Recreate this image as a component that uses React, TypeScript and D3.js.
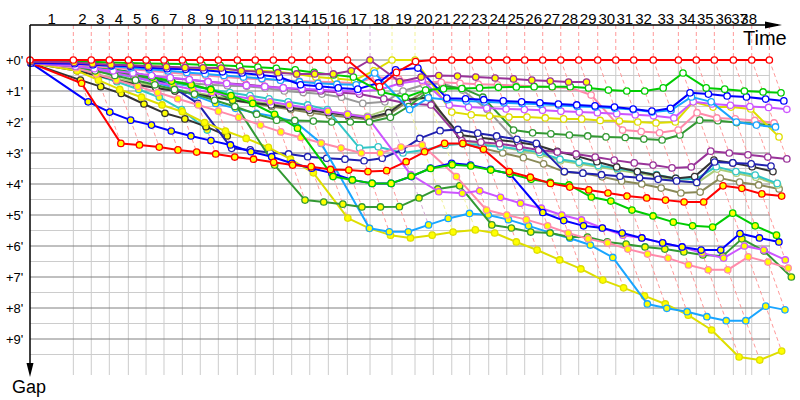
import * as d3 from "d3";

// leader lap-completion times (minutes), index 0 = start
const lapTimes = [0, 3.94, 5.57, 7.21, 8.94, 10.55, 12.18, 13.85, 15.48, 17.12, 18.85, 20.48, 22.12, 23.79, 25.43, 27.12, 28.85, 30.91, 32.91, 35.0, 36.66, 38.34, 39.97, 41.7, 43.34, 44.97, 46.61, 48.25, 49.88, 51.61, 53.25, 54.88, 56.66, 58.94, 60.57, 62.21, 63.94, 65.61, 67.21];
const extraGridTimes = [65.06];
const lapLabels = ["1", "2", "3", "4", "5", "6", "7", "8", "9", "10", "11", "12", "13", "14", "15", "16", "17", "18", "19", "20", "21", "22", "23", "24", "25", "26", "27", "28", "29", "30", "31", "32", "33", "34", "35", "36", "37", "38"];
const gapTicks = [0, 1, 2, 3, 4, 5, 6, 7, 8, 9];
const gapLabels = ["+0'", "+1'", "+2'", "+3'", "+4'", "+5'", "+6'", "+7'", "+8'", "+9'"];

// gap to the leader (minutes) at the end of each lap, index 0 = start
const redW = [0, 0, 0, 0, 0, 0, 0, 0, 0, 0, 0, 0, 0, 0, 0, 0, 0, 0.86, 0.4, 0.05, 0, 0, 0, 0, 0, 0, 0, 0, 0, 0, 0, 0, 0, 0, 0, 0, 0, 0, 0];
const redY = [0.1, 0.75, 2.69, 2.74, 2.81, 2.9, 2.97, 3.03, 3.13, 3.2, 3.3, 3.39, 3.44, 3.53, 3.55, 3.6, 3.57, 3.28, 2.96, 2.69, 2.69, 2.88, 3.6, 3.78, 3.98, 4.1, 4.19, 4.29, 4.39, 4.45, 4.52, 4.58, 4.58, 4.06, 4.14, 4.32, 4.39];
const greenW = [0.05, 0.05, 0.06, 0.08, 0.1, 0.11, 0.12, 0.13, 0.15, 0.17, 0.2, 0.23, 0.27, 0.32, 0.4, 0.48, 0.55, 1.03, 1.2, 0.97, 0.93, 0.92, 0.9, 0.88, 0.87, 0.86, 0.86, 0.86, 0.9, 0.97, 1.0, 1.0, 0.9, 0.42, 0.9, 0.94, 1.0, 1.03, 1.06];
const greenY = [0.1, 0.12, 0.2, 0.3, 0.42, 0.55, 0.68, 0.8, 0.95, 1.15, 1.4, 1.75, 2.2, 3.76, 3.87, 3.98, 3.98, 3.75, 3.5, 3.38, 3.42, 3.55, 3.66, 3.85, 3.95, 4.03, 4.42, 4.55, 4.84, 5.03, 5.23, 5.35, 5.39, 4.94, 5.35, 5.65];
const blueW = [0.1, 0.12, 0.15, 0.18, 0.2, 0.25, 0.28, 0.3, 0.33, 0.38, 0.42, 0.48, 0.55, 0.8, 0.85, 0.9, 0.94, 0.74, 0.32, 0.26, 1.23, 1.25, 1.28, 1.32, 1.35, 1.38, 1.42, 1.45, 1.48, 1.52, 1.58, 1.65, 1.56, 1.06, 1.1, 1.16, 1.19, 1.26, 1.32];
const blueY = [0.1, 1.35, 1.68, 1.94, 2.1, 2.29, 2.45, 2.6, 2.74, 2.96, 3.12, 3.33, 3.49, 3.65, 3.87, 3.98, 3.98, 3.76, 3.49, 3.33, 3.39, 3.53, 3.68, 4.92, 5.18, 5.35, 5.42, 5.58, 5.74, 5.9, 6.03, 6.13, 6.13, 5.6, 5.74, 5.87];
const navyW = [0.1, 0.15, 0.2, 0.3, 0.4, 0.55, 0.9, 1.4, 2.85, 2.9, 2.99, 3.03, 3.12, 3.17, 3.2, 3.25, 3.17, 2.9, 2.53, 2.28, 2.24, 2.36, 2.45, 2.56, 2.69, 3.6, 3.65, 3.7, 3.75, 3.8, 3.85, 3.9, 3.95, 3.29, 3.32, 3.35, 3.42];
const dblueW = [0.1, 0.1, 0.15, 0.2, 0.25, 0.3, 0.35, 0.4, 0.45, 0.5, 0.55, 0.6, 0.65, 0.7, 0.75, 0.78, 0.8, 0.42, 1.6, 1.22, 1.28, 1.32, 1.35, 1.38, 1.4, 1.43, 1.46, 1.5, 1.52, 1.56, 1.6, 1.68, 1.62, 1.19, 1.35, 2.0, 2.1, 2.16];
const dblueY = [0.1, 0.15, 0.25, 0.4, 0.55, 0.7, 0.9, 1.15, 1.4, 1.56, 1.72, 1.83, 1.99, 2.69, 5.43, 5.54, 5.54, 5.32, 5.11, 4.95, 5.0, 5.15, 5.35, 5.57, 5.75, 5.97, 6.37, 7.87, 8.01, 8.12, 8.28, 8.41, 8.41, 7.94, 8.06];
const violetW = [0.1, 0.2, 0.28, 0.35, 0.42, 0.5, 0.57, 0.63, 0.7, 0.76, 0.82, 0.86, 0.9, 0.93, 0.96, 1.0, 1.02, 0.95, 0.75, 0.65, 1.45, 1.52, 1.55, 1.58, 1.6, 1.62, 1.65, 1.68, 1.7, 1.73, 1.77, 1.8, 1.87, 1.35, 1.42, 1.46, 1.5, 1.53, 1.59];
const violetY = [0.1, 0.2, 0.3, 0.42, 0.55, 0.7, 0.82, 0.95, 1.05, 1.15, 1.25, 1.35, 1.45, 1.55, 1.65, 1.75, 1.85, 3.7, 4.25, 4.3, 4.22, 4.43, 4.62, 4.78, 5.0, 5.16, 5.42, 5.65, 5.74, 5.9, 6.03, 6.23, 6.39, 6.0, 6.13, 6.45];
const yellowW = [0.08, 0.1, 0.12, 0.15, 0.18, 0.2, 0.22, 0.25, 0.28, 0.3, 0.33, 0.35, 0.38, 0.45, 0.55, 0.6, 0.65, 0.35, 0, 0, 1.68, 1.77, 1.81, 1.84, 1.84, 1.87, 1.9, 1.9, 1.95, 1.97, 2.0, 2.03, 2.0, 1.35, 1.52, 1.52, 1.58, 2.48];
const yellowY = [0.1, 0.35, 0.65, 0.95, 1.2, 1.45, 1.67, 2.02, 2.29, 2.53, 2.82, 3.2, 3.64, 5.1, 5.43, 5.65, 5.74, 5.65, 5.55, 5.48, 5.58, 5.87, 6.13, 6.45, 6.74, 7.1, 7.35, 7.61, 7.87, 8.23, 8.71, 9.58, 9.68, 9.39];
const pinkW = [0.1, 0.15, 0.2, 0.25, 0.3, 0.35, 0.4, 0.45, 0.5, 0.55, 0.6, 0.62, 0.65, 0.68, 0.7, 0.72, 0.75, 0.55, 0.62, 0.7, 0.72, 0.75, 0.78, 0.8, 0.82, 0.85, 0.88, 0.9, 1.13, 2.26, 2.31, 2.35, 2.26, 1.7, 1.87, 1.9, 1.95, 2.03];
const pinkY = [0.1, 0.25, 0.45, 0.65, 0.85, 1.05, 1.25, 1.45, 1.65, 1.85, 2.1, 2.32, 2.5, 2.68, 2.84, 3.0, 3.0, 2.81, 2.74, 3.76, 4.84, 5.0, 5.15, 5.35, 5.58, 5.77, 5.9, 6.1, 6.26, 6.39, 6.61, 6.77, 6.77, 6.35, 6.52, 6.71];
const dgreenW = [0.1, 0.2, 0.35, 0.5, 0.65, 0.8, 0.95, 1.1, 1.3, 1.5, 1.75, 1.94, 1.95, 1.97, 2.0, 2.0, 2.0, 1.85, 1.5, 1.05, 0.85, 0.9, 1.2, 2.26, 2.35, 2.38, 2.42, 2.45, 2.48, 2.5, 2.55, 2.58, 2.42, 1.94, 1.96, 2.02, 2.06, 2.1];
const dgreenY = [0.1, 0.2, 0.3, 0.4, 0.5, 0.6, 0.7, 0.8, 0.95, 1.3, 3.39, 4.52, 4.58, 4.65, 4.74, 4.74, 4.73, 4.45, 4.16, 4.06, 5.32, 5.42, 5.55, 5.58, 5.71, 5.71, 5.87, 5.94, 6.03, 6.1, 6.19, 6.29, 6.32, 5.77, 6.16, 7.0];
const dpurpleW = [0.1, 0.2, 0.3, 0.38, 0.45, 0.52, 0.58, 0.64, 0.7, 0.75, 0.8, 0.85, 0.9, 0.95, 1.0, 1.05, 1.1, 1.25, 1.4, 1.45, 2.6, 2.65, 2.7, 2.8, 2.9, 2.97, 3.03, 3.13, 3.23, 3.32, 3.39, 3.48, 3.45, 2.94, 3.0, 3.06, 3.13, 3.19];
const dpurpleY = [0.05, 0.08, 0.12, 0.15, 0.17, 0.2, 0.22, 0.24, 0.25, 0.26, 0.35, 0.38, 0.41, 0.45, 0.45, 0.45, 0.35, 0, 0.7, 0.55, 0.5, 0.52, 0.55, 0.58, 0.61, 0.65, 0.68, 0.71, 0.71];
const blackW = [0.1, 0.35, 0.5, 0.65, 0.8, 0.9, 1.0, 1.1, 1.2, 1.3, 1.38, 1.45, 1.55, 1.62, 1.7, 1.78, 1.87, 1.7, 1.29, 1.2, 2.42, 2.5, 2.58, 2.65, 2.75, 2.95, 3.1, 3.28, 3.45, 3.6, 3.72, 3.82, 3.76, 3.23, 3.32, 3.44, 3.6];
const blackY = [0.1, 0.65, 0.86, 1.08, 1.42, 1.72, 1.9, 2.15, 2.45];
const tealW = [0.1, 0.25, 0.35, 0.45, 0.55, 0.65, 0.75, 0.85, 0.95, 1.05, 1.15, 1.25, 1.35, 1.45, 1.6, 2.84, 2.8, 3.0, 2.9, 2.75, 2.7, 2.75, 2.8, 2.88, 2.98, 3.2, 3.3, 3.4, 3.5, 3.6, 3.7, 3.82, 3.85, 3.44, 3.6, 3.71, 3.98];
const tealY = [0.1, 0.3, 0.5, 0.7, 0.95, 1.2, 1.6, 2.26];
const lgreenW = [0.1, 0.3, 0.45, 0.6, 0.72, 0.85, 0.95, 1.05, 1.15, 1.25, 1.33, 1.42, 1.5, 1.58, 1.66, 1.74, 1.82, 1.6, 1.35, 1.2, 2.6, 2.7, 2.8, 2.92, 3.05, 3.25, 3.35, 3.45, 3.55, 3.65, 3.75, 3.88, 3.97, 3.52, 3.65, 3.78, 4.03];
const oliveW = [0.1, 0.3, 0.48, 0.62, 0.75, 0.88, 1.0, 1.1, 1.2, 1.3, 1.4, 1.5, 1.6, 1.7, 1.78, 1.85, 1.92, 1.75, 1.35, 1.0, 2.7, 2.85, 3.0, 3.15, 3.35, 3.61, 3.65, 3.77, 3.9, 4.0, 4.13, 4.29, 4.26, 3.81, 3.94, 4.03, 4.16];
const grayW = [0.1, 0.2, 0.3, 0.4, 0.5, 0.6, 0.7, 0.75, 0.8, 0.83, 0.85, 0.9, 1.0, 1.05, 1.1, 1.2, 1.4, 1.35, 1.0, 0.8, 0.75, 0.97, 1.6, 2.7];

const W = "#ffffff";
const Y = "#ffff00";
const drivers = [
  { gaps: grayW, color: "#999999", fill: W },
  { gaps: oliveW, color: "#8a8a58", fill: W },
  { gaps: lgreenW, color: "#aacc77", fill: W },
  { gaps: tealW, color: "#33c6c6", fill: W },
  { gaps: tealY, color: "#33c6c6", fill: Y },
  { gaps: blackW, color: "#333333", fill: W },
  { gaps: blackY, color: "#333333", fill: Y },
  { gaps: dpurpleW, color: "#993399", fill: W },
  { gaps: navyW, color: "#2020b0", fill: W },
  { gaps: yellowY, color: "#dede00", fill: Y },
  { gaps: dblueY, color: "#19a5ff", fill: Y },
  { gaps: dgreenY, color: "#339933", fill: Y },
  { gaps: pinkY, color: "#ff8aaa", fill: Y },
  { gaps: violetY, color: "#cc55ff", fill: Y },
  { gaps: blueY, color: "#0000ff", fill: Y },
  { gaps: greenY, color: "#00cc00", fill: Y },
  { gaps: redY, color: "#ff0000", fill: Y },
  { gaps: dgreenW, color: "#339933", fill: W },
  { gaps: pinkW, color: "#ff8aaa", fill: W },
  { gaps: yellowW, color: "#dede00", fill: W },
  { gaps: violetW, color: "#cc55ff", fill: W },
  { gaps: dblueW, color: "#19a5ff", fill: W },
  { gaps: blueW, color: "#0000ff", fill: W },
  { gaps: greenW, color: "#00cc00", fill: W },
  { gaps: dpurpleY, color: "#993399", fill: Y },
  { gaps: redW, color: "#ff0000", fill: W },
];

const left = 30;
const right = 770;
const top = 25;
const bottom = 375;
const FONT = "Liberation Sans, Arial, sans-serif";

const xScale = d3.scaleLinear().domain([0, 67.27]).range([left, right]);
const yScale = d3.scaleLinear().domain([0, 9]).range([60, 339]);

export default function App() {
  const pts = drivers.map((d) =>
    d.gaps.map((g, i) => [xScale(lapTimes[i] + g), yScale(g)] as [number, number])
  );
  const line = d3.line<[number, number]>();

  const gridTimes = [...lapTimes.slice(1), ...extraGridTimes].sort((a, b) => a - b);
  const labelEdges = [0, ...gridTimes];

  // dashed lap lines: from the leader's lap point down to the last runner on that lap
  const lapLines = lapTimes.slice(1).map((t, k) => {
    const lap = k + 1;
    let minG = Infinity;
    let maxG = 0;
    let leadColor = "#ff0000";
    drivers.forEach((d) => {
      if (d.gaps.length > lap) {
        const g = d.gaps[lap];
        if (g < minG) {
          minG = g;
          leadColor = d.color;
        }
        if (g > maxG) maxG = g;
      }
    });
    const x0 = xScale(t);
    const path = `M${x0},${top}L${x0},${yScale(0)}L${xScale(t + maxG)},${yScale(maxG)}`;
    return { path, color: d3.interpolateRgb(leadColor, "#ffffff")(0.6) };
  });

  const hLines = d3.range(0, 10, 0.5);

  return (
    <svg width={800} height={400} style={{ position: "absolute", left: 0, top: 0, background: "#fff" }}>
      {/* grid */}
      {gridTimes.map((t, i) => (
        <line key={"v" + i} x1={xScale(t)} x2={xScale(t)} y1={yScale(0)} y2={bottom} stroke="#cccccc" strokeWidth={1} />
      ))}
      {hLines.map((g) => (
        <line key={"h" + g} x1={left} x2={right} y1={yScale(g)} y2={yScale(g)}
          stroke={Number.isInteger(g) ? "#808080" : "#cccccc"} strokeWidth={1} />
      ))}
      {lapLines.map((l, i) => (
        <path key={"lap" + i} d={l.path} fill="none" stroke={l.color} strokeWidth={1} strokeDasharray="4,3" />
      ))}

      {/* series */}
      {drivers.map((d, i) => (
        <g key={"s" + i}>
          <path d={line(pts[i]) ?? ""} fill="none" stroke={d.color} strokeWidth={2} strokeLinejoin="round" />
          {pts[i].map((p, j) => (
            <circle key={j} cx={p[0]} cy={p[1]} r={3.2} fill={d.fill} stroke={d.color} strokeWidth={1.3} />
          ))}
        </g>
      ))}

      {/* axes */}
      <line x1={left} x2={778} y1={top} y2={top} stroke="#000" strokeWidth={1.5} />
      <polygon points={`765,21.5 765,28.5 782,${top}`} fill="#000" />
      <line x1={left} x2={left} y1={top} y2={366} stroke="#000" strokeWidth={1.5} />
      <polygon points={`${left - 3.5},363 ${left + 3.5},363 ${left},377`} fill="#000" />

      {lapLabels.map((s, i) => (
        <text key={"xl" + i} x={(xScale(labelEdges[i]) + xScale(labelEdges[i + 1])) / 2} y={23.5}
          textAnchor="middle" fontSize={15} fontFamily={FONT}>{s}</text>
      ))}
      {gapTicks.map((g, i) => (
        <text key={"yl" + i} x={6} y={yScale(g) + 4.5} fontSize={13} fontFamily={FONT}>{gapLabels[i]}</text>
      ))}
      <text x={743} y={45} fontSize={20} fontFamily={FONT}>Time</text>
      <text x={12} y={393} fontSize={18} fontFamily={FONT}>Gap</text>
    </svg>
  );
}
